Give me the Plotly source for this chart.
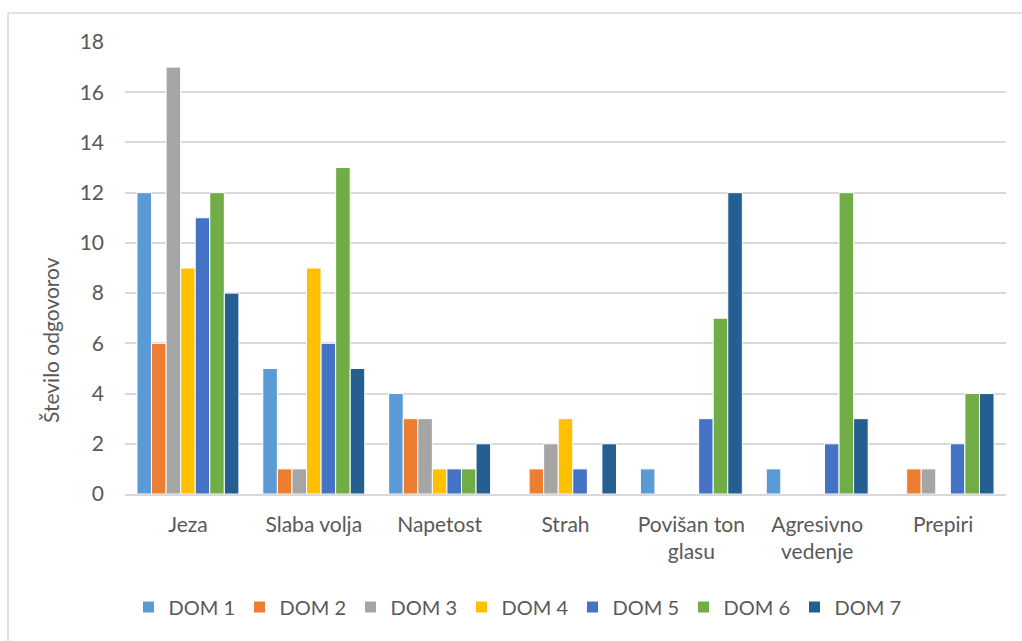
import plotly.graph_objects as go

# Response categories and counts per home (DOM 1 .. DOM 7)
categories = ["Jeza", "Slaba volja", "Napetost", "Strah",
              "Povišan ton<br>glasu", "Agresivno<br>vedenje", "Prepiri"]
series_names = ["DOM 1", "DOM 2", "DOM 3", "DOM 4", "DOM 5", "DOM 6", "DOM 7"]
dom1 = [12, 5, 4, 0, 1, 1, 0]
dom2 = [6, 1, 3, 1, 0, 0, 1]
dom3 = [17, 1, 3, 2, 0, 0, 1]
dom4 = [9, 9, 1, 3, 0, 0, 0]
dom5 = [11, 6, 1, 1, 3, 2, 2]
dom6 = [12, 13, 1, 0, 7, 12, 4]
dom7 = [8, 5, 2, 2, 12, 3, 4]
y_ticks = [0, 2, 4, 6, 8, 10, 12, 14, 16, 18]
y_title = "Število odgovorov"

colors = ["#5B9BD5", "#ED7D31", "#A5A5A5", "#FFC000",
          "#4472C4", "#70AD47", "#255E91"]
font_family = "Lato"
text_color = "#595959"

W, H = 1022, 641
m_l, m_r, m_t, m_b = 125, W - 1006, 42, 147
pw, ph = W - m_l - m_r, H - m_t - m_b

fig = go.Figure()
for name, vals, col in zip(series_names, [dom1, dom2, dom3, dom4, dom5, dom6, dom7], colors):
    fig.add_trace(go.Bar(
        x=categories, y=vals, name=name,
        marker=dict(color=col, line=dict(color="white", width=1)),
    ))


def px_to_paper_x(px):
    return (px - m_l) / pw


def px_to_paper_y(py):
    return (H - m_b - py) / ph


# outer chart frame: top and left edges
frame = dict(color="#D9D9D9", width=1.5)
fig.add_shape(type="line", xref="paper", yref="paper",
              x0=px_to_paper_x(8), x1=px_to_paper_x(1022),
              y0=px_to_paper_y(13), y1=px_to_paper_y(13), line=frame)
fig.add_shape(type="line", xref="paper", yref="paper",
              x0=px_to_paper_x(8), x1=px_to_paper_x(8),
              y0=px_to_paper_y(13), y1=px_to_paper_y(641), line=frame)

# value-axis title, placed as a rotated annotation
fig.add_annotation(text=y_title, xref="paper", yref="paper",
                   x=px_to_paper_x(50), y=px_to_paper_y(340),
                   xanchor="center", yanchor="middle", textangle=-90,
                   showarrow=False, font=dict(size=21, color=text_color))

fig.update_layout(
    width=W, height=H,
    margin=dict(l=m_l, r=m_r, t=m_t, b=m_b, autoexpand=False),
    paper_bgcolor="white", plot_bgcolor="white",
    barmode="group", bargap=0.19, bargroupgap=0.0,
    font=dict(family=font_family, color=text_color, size=21),
    showlegend=True,
    legend=dict(orientation="h", x=px_to_paper_x(517), xanchor="center",
                y=px_to_paper_y(607), yanchor="middle",
                font=dict(size=20, color=text_color),
                entrywidth=66, entrywidthmode="pixels",
                itemclick=False, traceorder="normal"),
    xaxis=dict(showgrid=False, showline=True, linecolor="#D9D9D9", linewidth=1.5,
               ticks="", tickfont=dict(size=21, color=text_color),
               ticklabelstandoff=11),
    yaxis=dict(range=[0, 18], tickvals=y_ticks, showgrid=True,
               gridcolor="#D9D9D9", gridwidth=1.5, zeroline=False,
               showline=False, ticks="", tickfont=dict(size=21, color=text_color),
               ticklabelstandoff=20),
)

fig.write_html("out.html")
